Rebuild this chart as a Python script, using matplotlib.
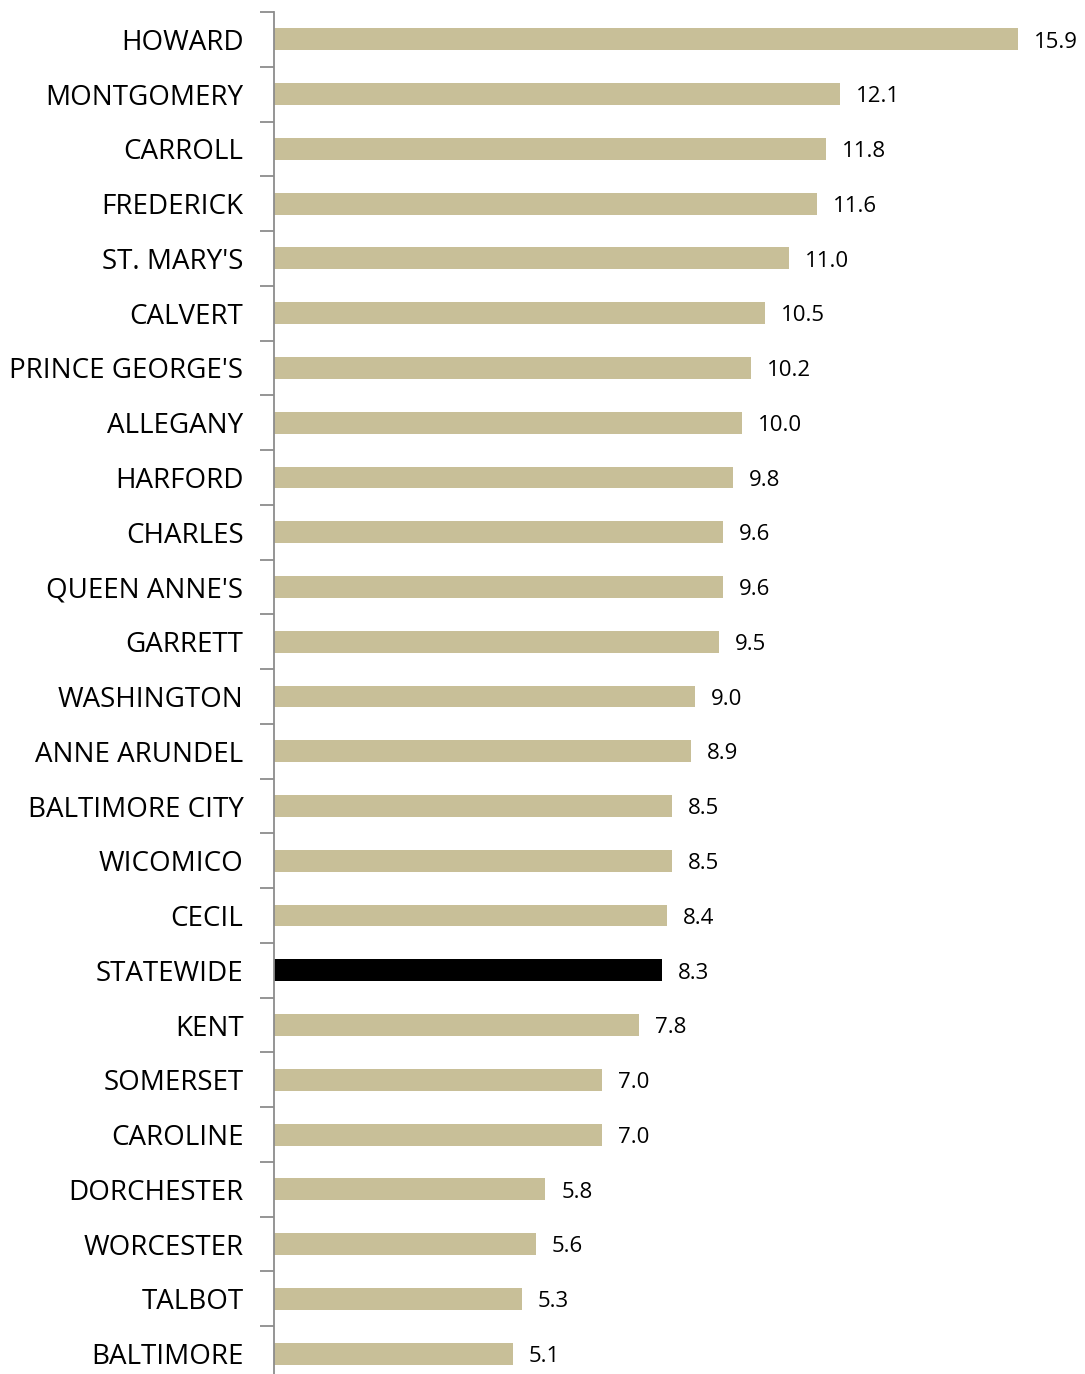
import matplotlib.pyplot as plt
import numpy as np

counties = ["HOWARD", "MONTGOMERY", "CARROLL", "FREDERICK", "ST. MARY'S", "CALVERT",
            "PRINCE GEORGE'S", "ALLEGANY", "HARFORD", "CHARLES", "QUEEN ANNE'S", "GARRETT",
            "WASHINGTON", "ANNE ARUNDEL", "BALTIMORE CITY", "WICOMICO", "CECIL", "STATEWIDE",
            "KENT", "SOMERSET", "CAROLINE", "DORCHESTER", "WORCESTER", "TALBOT", "BALTIMORE"]
values = [15.9, 12.1, 11.8, 11.6, 11.0, 10.5, 10.2, 10.0, 9.8, 9.6, 9.6, 9.5, 9.0, 8.9,
          8.5, 8.5, 8.4, 8.3, 7.8, 7.0, 7.0, 5.8, 5.6, 5.3, 5.1]

W, H = 1085, 1374
fig = plt.figure(figsize=(W / 100, H / 100), dpi=100)
# axes placed in pixel terms: x from 274 to right edge, y from 12 to 1381
ax = fig.add_axes([274 / W, (H - 1381) / H, (W - 274) / W, (1381 - 12) / H])

n = len(counties)
ypos = np.arange(n)
colors = ["#000000" if c == "STATEWIDE" else "#C8BF98" for c in counties]
ax.barh(ypos, values, height=0.4, color=colors)

ax.set_ylim(n - 0.5, -0.5)
ax.set_xlim(0, (W - 274) / 46.8)

for y, v in zip(ypos, values):
    ax.text(v + 0.34, y + 0.05, f"{v:.1f}", va="center", ha="left",
            fontsize=16, family="Open Sans")

ax.set_yticks(ypos)
ax.set_yticklabels(counties, fontsize=20, family="Open Sans")
ax.tick_params(axis="y", which="major", length=0, pad=22)
ax.set_yticks(np.arange(n + 1) - 0.5, minor=True)
ax.tick_params(axis="y", which="minor", length=10, width=1.3, color="#8C8C8C")
ax.set_xticks([])

for s in ["top", "right", "bottom"]:
    ax.spines[s].set_visible(False)
ax.spines["left"].set_color("#8C8C8C")
ax.spines["left"].set_linewidth(1.3)

fig.savefig("out.png", dpi=100)
